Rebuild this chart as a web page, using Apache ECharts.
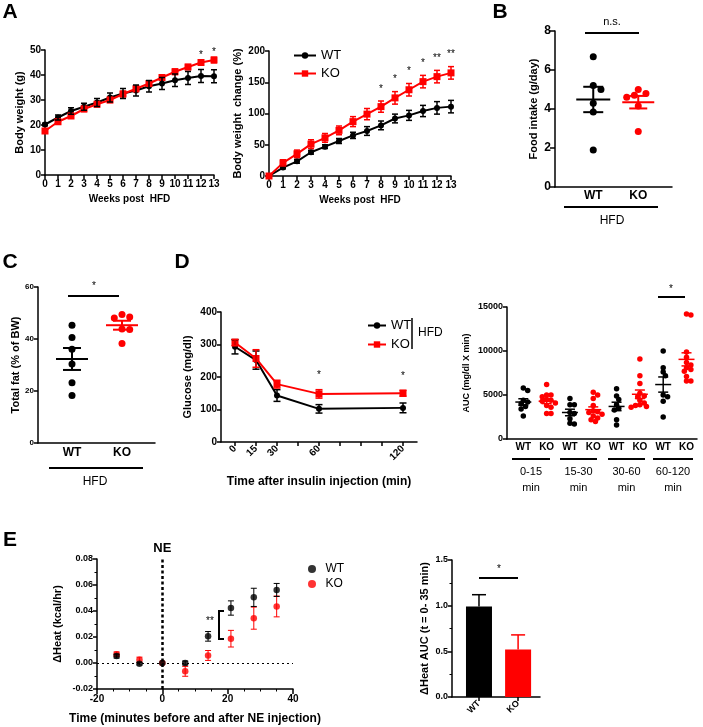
<!DOCTYPE html>
<html><head><meta charset="utf-8">
<script src="https://cdn.jsdelivr.net/npm/echarts/dist/echarts.min.js"></script>
<style>html,body{margin:0;padding:0;background:#fff}#c{width:703px;height:727px}</style>
</head><body><div id="c"></div>
<script>
// ---------------- DATA ----------------
const weeks = [0,1,2,3,4,5,6,7,8,9,10,11,12,13];
const bwWT    = [20.2,23.0,25.6,27.3,29.0,31.0,32.6,33.8,35.5,36.6,37.9,38.8,39.6,39.5];
const bwWTErr = [0.5,1.0,1.3,1.4,1.6,1.8,2.0,2.2,2.3,2.4,2.5,2.6,2.6,2.6];
const bwKO    = [17.6,21.3,23.6,26.4,28.3,30.0,32.4,34.5,36.6,39.0,41.3,43.2,45.0,46.0];
const bwKOErr = [0.8,0.9,0.9,1.0,1.0,1.0,1.1,1.1,1.1,1.1,1.1,1.0,1.1,1.1];
const bwStars = ['','','','','','','','','','','','','*','*'];

const bwcWT    = [0,13.5,23.5,38,47,56,65,72,81,92,97,104,109,111];
const bwcWTErr = [0,2,3,3,3,4,5,7,7,7,8,9,10,10];
const bwcKO    = [0,21,35.5,51,61,73,87,99,111,125,138,151,159,165];
const bwcKOErr = [0,5,6,7,7,7,8,9,9,10,10,10,10,10];
const bwcStars = ['','','','','','','','','*','*','*','*','**','**'];

const groupCats = ['WT','KO'];
const foodWT = [6.68,5.0,5.2,4.3,3.85,1.9];
const foodKO = [5.0,4.6,4.7,4.8,4.15,2.85];
const fatWT = [45.3,40.6,36.1,30.4,23.2,18.3];
const fatKO = [49.4,48.1,48.5,43.8,43.7,38.3];

const ittTimes = [0,15,30,60,120];
const ittTickVals = [0,15,30,45,60,75,90,105,120];
const ittWT = [293,252,143,102,105];
const ittWTErr = [22,28,18,13,15];
const ittKO = [306,257,178,148,150];
const ittKOErr = [10,27,12,13,9];
const ittStars = ['','','','*','*'];

const aucGroups = ['0-15\nmin','15-30\nmin','30-60\nmin','60-120\nmin'];
const aucWT = [
  [5500,5800,4400,4200,4000,3700,3400,2600],
  [4600,3900,3900,3000,2900,2300,1800,1700],
  [5700,4900,4500,3900,3500,3300,2200,1600],
  [10000,8100,7600,7200,5000,4800,4300,2500]
];
const aucKO = [
  [6200,5000,5000,4800,4500,4400,4300,4100,3800,3600,2900,2900],
  [5300,5000,4600,3800,3200,3100,3000,2800,2600,2400,2200,2000],
  [9100,7200,6300,5200,4900,4800,4400,4100,3900,3800,3700,3600],
  [14100,14200,9900,8700,9300,8400,8100,7900,7700,7100,6600,6600]
];

const heatTimes = [-14,-7,0,7,14,21,28,35];
const heatWT    = [0.0053,-0.0005,0,0,0.0205,0.0423,0.0505,0.0562];
const heatWTErr = [0.0015,0.001,0,0.0015,0.0037,0.0055,0.007,0.005];
const heatKO    = [0.0068,0.0025,0,-0.0064,0.0058,0.0187,0.0345,0.0435];
const heatKOErr = [0.0017,0.002,0,0.0038,0.0038,0.0064,0.0085,0.008];

const heatAuc = [0.99,0.52];
const heatAucErr = [0.13,0.16];

// ---------------- HELPERS ----------------
const FONT = "'Liberation Sans', Arial, Helvetica, sans-serif";
const BLACK = '#000', RED = '#ff0000';

function stats(a){const n=a.length;const m=a.reduce((s,v)=>s+v,0)/n;const sd=Math.sqrt(a.reduce((s,v)=>s+(v-m)*(v-m),0)/(n-1));return [m, sd/Math.sqrt(n)];}

function swarm(vals, cx, xPx, yPx, d){
  const placed=[], out=[];
  const order = vals.map((v,i)=>i).sort((a,b)=>vals[b]-vals[a]);
  const cands=[0]; for(let j=1;j<14;j++){cands.push(j*d*0.55,-j*d*0.55);}
  for(const i of order){
    const py=vals[i]*yPx; let off=0;
    for(const c of cands){ if(placed.every(p=>Math.hypot(p[0]-c,p[1]-py)>=d*0.92)){off=c;break;} }
    placed.push([off,py]); out[i]=[cx+off/xPx, vals[i]];
  }
  return out;
}

function mkAxis(gi, c){
  const a = {
    type:'value', gridIndex:gi, min:c.min, max:c.max,
    splitLine:{show:false},
    axisLine:{show:true, onZero:false, lineStyle:{color:BLACK, width:1.5}},
    axisTick:{show:c.tick!==false, length:c.tickLen||4, lineStyle:{color:BLACK, width:1.5}},
    minorTick: c.minor ? {show:true, splitNumber:c.minor, length:2.5, lineStyle:{color:BLACK, width:1}} : {show:false},
    axisLabel:{show:true, color:BLACK, fontFamily:FONT, fontWeight:'bold', fontSize:c.fs||10, margin:c.margin==null?4:c.margin, rotate:c.rotate||0, showMinLabel:true, showMaxLabel:true, hideOverlap:false},
    name:c.name||'', nameLocation:'middle', nameGap:c.gap||20,
    nameTextStyle:{color:BLACK, fontFamily:FONT, fontWeight:'bold', fontSize:c.nfs||11}
  };
  if(c.interval!=null) a.interval=c.interval;
  if(c.labels) a.axisLabel.customValues=c.labels;
  if(c.ticks) a.axisTick.customValues=c.ticks;
  a.axisLabel.formatter = c.fmt || (v=>String(v));
  return a;
}

function errItem(cap, lw, color, upOnly){
  return function(params, api){
    const x=api.value(0), y=api.value(1), e=api.value(2);
    if(!e) return null;
    const t=api.coord([x,y+e]), b=api.coord(upOnly?[x,y]:[x,y-e]);
    const st={stroke:color, lineWidth:lw};
    const ch=[{type:'line',shape:{x1:t[0],y1:t[1],x2:b[0],y2:b[1]},style:st},
              {type:'line',shape:{x1:t[0]-cap/2,y1:t[1],x2:t[0]+cap/2,y2:t[1]},style:st}];
    if(!upOnly) ch.push({type:'line',shape:{x1:b[0]-cap/2,y1:b[1],x2:b[0]+cap/2,y2:b[1]},style:st});
    return {type:'group', children:ch};
  };
}
function meanItem(color, halfW, capHalf, lw){
  return function(params, api){
    const x=api.value(0), m=api.value(1), s=api.value(2);
    const c=api.coord([x,m]), t=api.coord([x,m+s]), b=api.coord([x,m-s]);
    const st={stroke:color, lineWidth:lw};
    return {type:'group', children:[
      {type:'line',shape:{x1:c[0]-halfW,y1:c[1],x2:c[0]+halfW,y2:c[1]},style:st},
      {type:'line',shape:{x1:t[0],y1:t[1],x2:b[0],y2:b[1]},style:st},
      {type:'line',shape:{x1:t[0]-capHalf,y1:t[1],x2:t[0]+capHalf,y2:t[1]},style:st},
      {type:'line',shape:{x1:b[0]-capHalf,y1:b[1],x2:b[0]+capHalf,y2:b[1]},style:st}]};
  };
}
function starItem(stars, dy, fs){
  return function(params, api){
    const s=stars[params.dataIndex]; if(!s) return null;
    const p=api.coord([api.value(0), api.value(1)]);
    return {type:'text', x:p[0], y:p[1]-dy, style:{text:s, font:fs+'px '+FONT, fill:BLACK, align:'center', verticalAlign:'middle'}};
  };
}

const S=[];
function line(gi,name,xs,ys,color,symbol,size){
  S.push({type:'line', name, xAxisIndex:gi, yAxisIndex:gi, data:xs.map((x,i)=>[x,ys[i]]), symbol, symbolSize:size, showSymbol:true, lineStyle:{color, width:2}, itemStyle:{color}, z:3, silent:true});
}
function err(gi,xs,ys,es,color,cap,lw,upOnly,z){
  S.push({type:'custom', xAxisIndex:gi, yAxisIndex:gi, encode:{x:0,y:1}, data:xs.map((x,i)=>[x,ys[i],es[i]]), renderItem:errItem(cap,lw,color,upOnly), z:z||4, silent:true, clip:false});
}
function stars(gi,xs,ys,es,arr,dy,fs){
  S.push({type:'custom', xAxisIndex:gi, yAxisIndex:gi, encode:{x:0,y:1}, data:xs.map((x,i)=>[x,ys[i]+es[i]]), renderItem:starItem(arr,dy,fs), z:6, silent:true, clip:false});
}
function dots(gi,name,pts,color,size){
  S.push({type:'scatter', name, xAxisIndex:gi, yAxisIndex:gi, data:pts, symbol:'circle', symbolSize:size, itemStyle:{color, opacity:1}, z:3, silent:true});
}
function means(gi,rows,color,halfW,capHalf,lw){
  S.push({type:'custom', xAxisIndex:gi, yAxisIndex:gi, encode:{x:0,y:1}, data:rows, renderItem:meanItem(color,halfW,capHalf,lw), z:5, silent:true, clip:false});
}

// ---------------- GRIDS ----------------
const grids = [
  {left:45, top:50, width:169, height:125},   // A left
  {left:269, top:51, width:182, height:125},  // A right
  {left:555, top:31, width:117, height:156},  // B
  {left:38, top:287, width:117, height:156},  // C
  {left:221, top:312, width:196, height:130}, // D left
  {left:507, top:307, width:190, height:132}, // D right
  {left:97, top:559, width:196, height:130},  // E left
  {left:452, top:560, width:88, height:137}   // E right
];

const aucPos = []; aucGroups.forEach((g,i)=>{aucPos.push(2*i+1, 2*i+2);});
const aucLabels = aucPos.map((p,i)=>groupCats[i%2]);

const xAxes = [
  mkAxis(0,{min:0,max:13,interval:1,fs:10,name:'Weeks post  HFD',gap:19,nfs:10}),
  mkAxis(1,{min:0,max:13,interval:1,fs:10,name:'Weeks post  HFD',gap:19,nfs:10}),
  mkAxis(2,{min:0.15,max:2.75,tick:false,labels:[1,2],fmt:v=>groupCats[Math.round(v)-1],fs:12,margin:3}),
  mkAxis(3,{min:0.32,max:2.66,tick:false,labels:[1,2],fmt:v=>groupCats[Math.round(v)-1],fs:12,margin:4}),
  mkAxis(4,{min:-10,max:130,labels:ittTimes,ticks:ittTickVals,rotate:45,fs:10,margin:5,name:'Time after insulin injection (min)',gap:34,nfs:12}),
  mkAxis(5,{min:0.3,max:8.45,tick:false,labels:aucPos,fmt:v=>aucLabels[Math.round(v)-1],fs:10,margin:3}),
  mkAxis(6,{min:-20,max:40,interval:20,minor:4,fs:10,margin:5,name:'Time (minutes before and after NE injection)',gap:24,nfs:12,tickLen:5}),
  mkAxis(7,{min:0.31,max:2.56,labels:[1,2],ticks:[1,2],fmt:v=>groupCats[Math.round(v)-1],rotate:45,fs:9,margin:5})
];
const yAxes = [
  mkAxis(0,{min:0,max:50,interval:10,fs:10,name:'Body weight (g)',gap:20,nfs:11}),
  mkAxis(1,{min:0,max:200,interval:50,fs:10,name:'Body weight  change (%)',gap:26,nfs:11}),
  mkAxis(2,{min:0,max:8,interval:2,fs:12,name:'Food intake (g/day)',gap:16,nfs:11,tickLen:5}),
  mkAxis(3,{min:0,max:60,interval:20,fs:8,name:'Total fat (% of BW)',gap:16,nfs:11}),
  mkAxis(4,{min:0,max:400,interval:100,fs:10,name:'Glucose (mg/dl)',gap:28,nfs:11}),
  mkAxis(5,{min:0,max:15000,interval:5000,fs:9,name:'AUC (mg/dl X min)',gap:36,nfs:9}),
  mkAxis(6,{min:-0.02,max:0.08,interval:0.02,minor:2,fs:9,fmt:v=>v.toFixed(2),name:'\u0394Heat (kcal/hr)',gap:34,nfs:11}),
  mkAxis(7,{min:0,max:1.5,interval:0.5,minor:2,fs:9,fmt:v=>v.toFixed(1),name:'\u0394Heat AUC (t = 0- 35 min)',gap:22,nfs:11})
];

// ---------------- SERIES ----------------
// A left
line(0,'Al_WT',weeks,bwWT,BLACK,'circle',6);
line(0,'Al_KO',weeks,bwKO,RED,'rect',7);
err(0,weeks,bwKO,bwKOErr,RED,6,1.5,false,4);
err(0,weeks,bwWT,bwWTErr,BLACK,6,1.5,false,4);
stars(0,weeks,bwKO,bwKOErr,bwStars,5,10);
// A right
line(1,'Ar_WT',weeks,bwcWT,BLACK,'circle',6);
line(1,'Ar_KO',weeks,bwcKO,RED,'rect',7);
err(1,weeks,bwcWT,bwcWTErr,BLACK,6,1.5,false,4);
err(1,weeks,bwcKO,bwcKOErr,RED,6,1.5,false,4);
stars(1,weeks,bwcKO,bwcKOErr,bwcStars,12,10);
// B
dots(2,'B_WT',swarm(foodWT,1,45,19.5,7),BLACK,7);
dots(2,'B_KO',swarm(foodKO,2,45,19.5,7),RED,7);
means(2,[[1].concat(stats(foodWT))],BLACK,17,10,2);
means(2,[[2].concat(stats(foodKO))],RED,16,9,2);
// C
dots(3,'C_WT',swarm(fatWT,1,50,2.6,7),BLACK,7);
dots(3,'C_KO',swarm(fatKO,2,50,2.6,7),RED,7);
means(3,[[1].concat(stats(fatWT))],BLACK,16,9,2);
means(3,[[2].concat(stats(fatKO))],RED,16,9,2);
// D left
line(4,'D_WT',ittTimes,ittWT,BLACK,'circle',6);
line(4,'D_KO',ittTimes,ittKO,RED,'rect',7);
err(4,ittTimes,ittWT,ittWTErr,BLACK,7,1.5,false,4);
err(4,ittTimes,ittKO,ittKOErr,RED,7,1.5,false,4);
stars(4,ittTimes,ittKO,ittKOErr,ittStars,14,10);
// D right
{
  let wtPts=[], koPts=[], wtM=[], koM=[];
  aucGroups.forEach((g,i)=>{
    wtPts=wtPts.concat(swarm(aucWT[i],2*i+1,23.4,132/15000,4));
    koPts=koPts.concat(swarm(aucKO[i],2*i+2,23.4,132/15000,4));
    wtM.push([2*i+1].concat(stats(aucWT[i])));
    koM.push([2*i+2].concat(stats(aucKO[i])));
  });
  dots(5,'Dr_WT',wtPts,BLACK,5.5);
  dots(5,'Dr_KO',koPts,RED,5.5);
  means(5,wtM,BLACK,8,5,1.5);
  means(5,koM,RED,8,5,1.5);
}
// E left
err(6,heatTimes,heatKO,heatKOErr,RED,6,1,false,2);
S.push({type:'scatter', name:'E_KO', xAxisIndex:6, yAxisIndex:6, data:heatTimes.map((t,i)=>[t,heatKO[i]]), symbol:'circle', symbolSize:6.5, itemStyle:{color:RED}, z:3, silent:true});
err(6,heatTimes,heatWT,heatWTErr,BLACK,6,1,false,4);
S.push({type:'scatter', name:'E_WT', xAxisIndex:6, yAxisIndex:6, data:heatTimes.map((t,i)=>[t,heatWT[i]]), symbol:'circle', symbolSize:6.5, itemStyle:{color:BLACK}, z:5, silent:true,
  markLine:{silent:true, symbol:['none','none'], animation:false,
    data:[
      {yAxis:0, lineStyle:{type:[2,3], width:1, color:BLACK}, label:{show:false}},
      {xAxis:0, lineStyle:{type:[3,2.5], width:2.5, color:BLACK}, label:{show:true, position:'end', formatter:'NE', color:BLACK, fontFamily:FONT, fontWeight:'bold', fontSize:13, distance:4}}
    ]}});
// E right
S.push({type:'bar', name:'Er', xAxisIndex:7, yAxisIndex:7, barWidth:26,
  data:heatAuc.map((v,i)=>({value:[i+1,v], itemStyle:{color:i===0?BLACK:RED}})), z:2, silent:true});
S.push({type:'custom', xAxisIndex:7, yAxisIndex:7, encode:{x:0,y:1}, data:[[1,heatAuc[0],heatAucErr[0]]], renderItem:errItem(14,1.5,BLACK,true), z:4, silent:true, clip:false});
S.push({type:'custom', xAxisIndex:7, yAxisIndex:7, encode:{x:0,y:1}, data:[[2,heatAuc[1],heatAucErr[1]]], renderItem:errItem(14,1.5,RED,true), z:4, silent:true, clip:false});

// ---------------- ANNOTATIONS ----------------
function txt(x,y,s,fs,bold,align,lh){return {type:'text', x, y, silent:true, style:{text:s, font:(bold?'bold ':'')+fs+'px '+FONT, fill:BLACK, align:align||'center', verticalAlign:'middle', lineHeight:lh||fs}};}
function ln(x1,y1,x2,y2,w){return {type:'line', silent:true, shape:{x1,y1,x2,y2}, style:{stroke:BLACK, lineWidth:w||2}};}
const G = [
  txt(10,12,'A',21,true), txt(500,12,'B',21,true), txt(10,262,'C',21,true), txt(182,262,'D',21,true), txt(10,540,'E',21,true),
  // B
  txt(612,22,'n.s.',11,false), ln(585,33,639,33,2), ln(564,207,658,207,2), txt(612,221,'HFD',12,false),
  // C
  txt(94,286,'*',10,false), ln(68,296,119,296,2), ln(49,468,143,468,2), txt(95,482,'HFD',12,false),
  // D left HFD
  ln(412,318,412,349,1.5), txt(418,333,'HFD',12,false,'left'),
  // D right
  txt(671,289,'*',10,false), ln(658,297,685,297,2),
  // E left bracket
  txt(210,621,'**',10,false), ln(219,611,219,639,2), ln(218,611,224,611,2), ln(218,639,224,639,2),
  // E right
  txt(499,569,'*',10,false), ln(479,578,518,578,2)
];
const underX = [[512,550],[560,597],[608,645],[653,693]];
aucGroups.forEach((g,i)=>{
  G.push(ln(underX[i][0],459,underX[i][1],459,2));
  G.push(txt((underX[i][0]+underX[i][1])/2,480,g,11,false,'center',16));
});

const legendBase = {orient:'vertical', selectedMode:false, formatter:n=>n.split('_')[1], textStyle:{fontFamily:FONT, color:BLACK}};
const option = {
  animation:false,
  backgroundColor:'#fff',
  grid:grids,
  xAxis:xAxes, yAxis:yAxes,
  legend:[
    Object.assign({}, legendBase, {data:['Ar_WT','Ar_KO'], left:288, top:44, itemWidth:22, itemHeight:8, itemGap:5, textStyle:{fontFamily:FONT,color:BLACK,fontSize:13}}),
    Object.assign({}, legendBase, {data:['D_WT','D_KO'], left:362, top:314, itemWidth:18, itemHeight:8, itemGap:6, textStyle:{fontFamily:FONT,color:BLACK,fontSize:13}}),
    Object.assign({}, legendBase, {data:['E_WT','E_KO'], left:303, top:558, itemWidth:9, itemHeight:8, itemGap:3, textStyle:{fontFamily:FONT,color:BLACK,fontSize:12, padding:[0,0,0,4]}})
  ],
  series:S,
  graphic:G
};
const chart = echarts.init(document.getElementById('c'), null, {renderer:'canvas'});
chart.setOption(option);
</script></body></html>
